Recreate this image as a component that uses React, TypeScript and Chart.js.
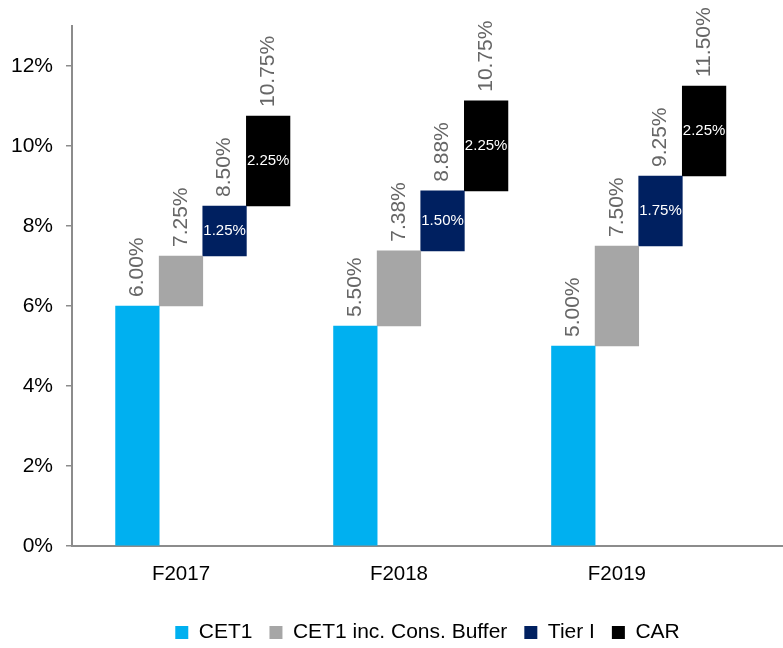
import React, { useEffect, useRef } from 'react';
import { Chart, registerables } from 'chart.js';

Chart.register(...registerables);

// ---- data ----
const CATEGORIES = ['F2017', 'F2018', 'F2019'];
const SERIES_NAMES = ['CET1', 'CET1 inc. Cons. Buffer', 'Tier I', 'CAR'];
// bar increments (each bar floats on top of the previous ones)
const CET1 = [6.0, 5.5, 5.0];
const BUFFER_INC = [1.25, 1.88, 2.5];
const TIER1_INC = [1.25, 1.5, 1.75];
const CAR_INC = [2.25, 2.25, 2.25];
// labels written above the bars (cumulative totals as printed)
const CET1_TOTAL = [6.0, 5.5, 5.0];
const BUFFER_TOTAL = [7.25, 7.38, 7.5];
const TIER1_TOTAL = [8.5, 8.88, 9.25];
const CAR_TOTAL = [10.75, 10.75, 11.5];
// y axis
const Y_MAX = 13;
const Y_STEP = 2;

// ---- style ----
const COLORS = ['#00B0F0', '#A6A6A6', '#002060', '#000000'];
const FONT = '"Liberation Sans", Arial, Helvetica, sans-serif';
const SLOTS_PER_CATEGORY = 5; // one empty leading slot + 4 bars
const X_MAX = 3.262; // axis runs a bit past the last category

const INCREMENTS = [CET1, BUFFER_INC, TIER1_INC, CAR_INC];
const TOP_LABELS = [CET1_TOTAL, BUFFER_TOTAL, TIER1_TOTAL, CAR_TOTAL];
const INNER_LABELS: (number[] | null)[] = [null, null, TIER1_INC, CAR_INC];

const fmt = (v: number) => v.toFixed(2) + '%';

const labelPlugin = {
  id: 'barLabels',
  afterDatasetsDraw(chart: any) {
    const ctx = chart.ctx as CanvasRenderingContext2D;
    chart.data.datasets.forEach((_ds: any, s: number) => {
      const meta = chart.getDatasetMeta(s);
      meta.data.forEach((bar: any, i: number) => {
        const { x, y, base } = bar.getProps(['x', 'y', 'base'], true);
        const top = Math.min(y, base);
        const bottom = Math.max(y, base);
        ctx.save();
        ctx.fillStyle = '#666666';
        ctx.font = `21px ${FONT}`;
        ctx.translate(x, top - 9);
        ctx.rotate(-Math.PI / 2);
        ctx.textAlign = 'left';
        ctx.textBaseline = 'middle';
        ctx.fillText(fmt(TOP_LABELS[s][i]), 0, 0);
        ctx.restore();
        const inner = INNER_LABELS[s];
        if (inner) {
          ctx.save();
          ctx.fillStyle = '#FFFFFF';
          ctx.font = `15px ${FONT}`;
          ctx.textAlign = 'center';
          ctx.textBaseline = 'middle';
          ctx.fillText(fmt(inner[i]), x, (top + bottom) / 2);
          ctx.restore();
        }
      });
    });
  },
};

export default function App() {
  const canvasRef = useRef<HTMLCanvasElement | null>(null);

  useEffect(() => {
    const canvas = canvasRef.current;
    if (!canvas) return;
    const datasets = SERIES_NAMES.map((name, s) => ({
      label: name,
      backgroundColor: COLORS[s],
      borderWidth: 0,
      grouped: false,
      categoryPercentage: 1,
      barPercentage: 1,
      data: CATEGORIES.map((_c, i) => {
        let lo = 0;
        for (let k = 0; k < s; k++) lo += INCREMENTS[k][i];
        return { x: i + (s + 1.5) / SLOTS_PER_CATEGORY, y: [lo, lo + INCREMENTS[s][i]] };
      }),
    }));

    const chart = new Chart(canvas, {
      type: 'bar',
      data: { datasets: datasets as any },
      plugins: [labelPlugin],
      options: {
        responsive: false,
        animation: false,
        events: [],
        devicePixelRatio: 1,
        layout: { padding: { top: 26, left: 0, right: 0, bottom: -5 } },
        plugins: {
          tooltip: { enabled: false },
          legend: {
            position: 'bottom',
            fullSize: false,
            labels: {
              boxWidth: 13,
              boxHeight: 13,
              padding: 17,
              color: '#000000',
              font: { family: FONT, size: 21 },
            },
          },
        },
        scales: {
          x: {
            type: 'linear',
            offset: false,
            min: 0,
            max: X_MAX,
            afterBuildTicks: (scale: any) => {
              scale.ticks = CATEGORIES.map((_c, i) => ({ value: i + 0.5 }));
            },
            afterFit: (scale: any) => {
              scale.height = 59;
            },
            ticks: {
              autoSkip: false,
              maxRotation: 0,
              padding: 16,
              color: '#000000',
              font: { family: FONT, size: 20.5 },
              callback: (_v: any, idx: number) => CATEGORIES[idx],
            },
            grid: { display: true, offset: false, drawOnChartArea: false, drawTicks: false },
            border: { display: true, color: '#8C8C8C', width: 2 },
          },
          y: {
            type: 'linear',
            min: 0,
            max: Y_MAX,
            afterFit: (scale: any) => {
              scale.width = 72;
            },
            ticks: {
              stepSize: Y_STEP,
              includeBounds: false,
              padding: 13,
              color: '#000000',
              font: { family: FONT, size: 21 },
              callback: (v: any) => v + '%',
            },
            grid: {
              drawOnChartArea: false,
              drawTicks: true,
              tickLength: 6,
              color: '#8C8C8C',
              lineWidth: 1.5,
            },
            border: { display: true, color: '#8C8C8C', width: 2 },
          },
        },
      } as any,
    });
    return () => chart.destroy();
  }, []);

  return (
    <div style={{ position: 'absolute', left: 0, top: 0, width: 783, height: 648, background: '#fff' }}>
      <canvas ref={canvasRef} width={783} height={648} style={{ display: 'block' }} />
    </div>
  );
}
